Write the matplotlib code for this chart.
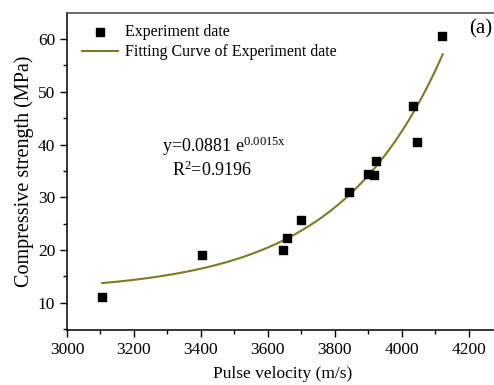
import numpy as np
import matplotlib
matplotlib.use("Agg")
import matplotlib.pyplot as plt
from matplotlib.ticker import MultipleLocator

plt.rcParams['font.family'] = ['Liberation Serif', 'DejaVu Serif']
plt.rcParams['mathtext.fontset'] = 'custom'
plt.rcParams['mathtext.rm'] = 'Liberation Serif'
plt.rcParams['mathtext.it'] = 'Liberation Serif'

velocity = [3105, 3402, 3646, 3657, 3699, 3841, 3900, 3918, 3923, 4033, 4044, 4119]
strength = [11.1, 19.05, 20.0, 22.3, 25.7, 30.9, 34.4, 34.2, 36.9, 47.3, 40.4, 60.6]

# fitted curve parameters: y = c + a*exp(b*(x - x0))
fit_c, fit_a, fit_b, fit_x0 = 11.96, 1.743, 0.0032, 3105
fit_range = (3105, 4122)

fig = plt.figure(figsize=(4.94, 3.85), dpi=100)
ax = fig.add_axes([67/494, 1 - 330/385, 1 - 67/494 + 0.01, (330 - 13.3)/385])

xs = np.linspace(fit_range[0], fit_range[1], 200)
ys = fit_c + fit_a * np.exp(fit_b * (xs - fit_x0))
ax.scatter(velocity, strength, marker='s', s=26, color='black', zorder=3,
           label='Experiment date')
ax.plot(xs, ys, color='#7b7b25', lw=1.5, label='Fitting Curve of Experiment date')

ax.set_xlim(3000, 4290)
ax.set_ylim(4.8, 64.9)
ax.xaxis.set_major_locator(MultipleLocator(200))
ax.xaxis.set_minor_locator(MultipleLocator(100))
ax.yaxis.set_major_locator(MultipleLocator(10))
ax.yaxis.set_minor_locator(MultipleLocator(5))
ax.tick_params(which='major', direction='out', length=5, width=1, labelsize=12.5)
ax.tick_params(which='minor', direction='out', length=3, width=1)
ax.spines['right'].set_visible(False)
for s in ['left', 'bottom', 'top']:
    ax.spines[s].set_linewidth(1.1)
ax.spines['top'].set_color('#444444')

ax.set_xlabel('Pulse velocity (m/s)', fontsize=12.5, labelpad=6)
ax.set_ylabel('Compressive strength (MPa)', fontsize=14.5, labelpad=3)

ax.legend(loc='upper left', bbox_to_anchor=(0.008, 1.0), frameon=False,
          fontsize=11.5, handlelength=2.3, handletextpad=0.4, labelspacing=0.25,
          borderaxespad=0.3)

ax.text(3285, 38.6, r'y=0.0881 e$^{\mathrm{0.0015x}}$', fontsize=13)
ax.text(3315, 34.0, r'R$^{2}$=0.9196', fontsize=13)
fig.text(469/494, 1 - 29/385, '(a)', fontsize=15, ha='left', va='center')

fig.savefig('out.png', dpi=100)
